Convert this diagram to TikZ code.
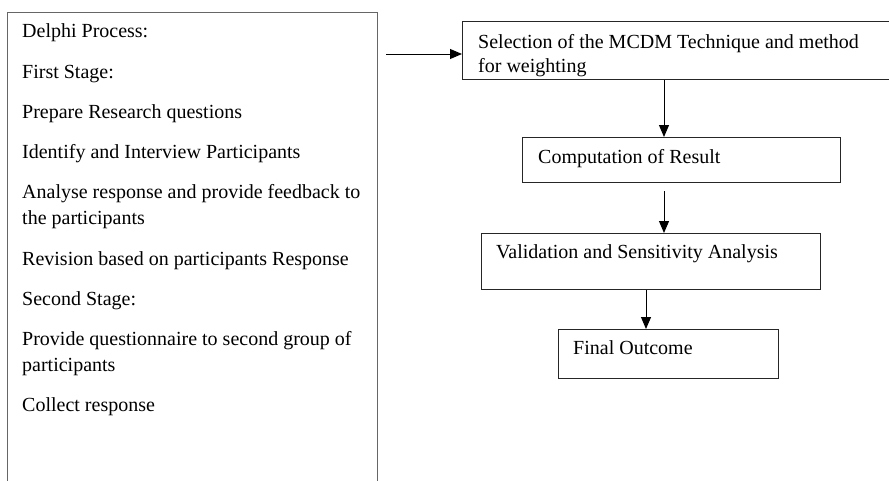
\documentclass[tikz,border=0pt]{standalone}
\usepackage{fontspec}
\setmainfont{Liberation Serif}
\usetikzlibrary{arrows.meta}
\begin{document}
\begin{tikzpicture}[x=1pt,y=-1pt,
  box/.style={draw=black!85,line width=1.2pt,inner sep=0pt,anchor=north west},
  lbox/.style={draw=black!60,line width=1.3pt,inner sep=0pt,anchor=north west},
  txt/.style={inner sep=0pt,anchor=base west,font=\fontsize{20}{25}\selectfont},
  arr/.style={line width=1pt,-{Triangle[width=10pt,length=12pt]}}]
\useasboundingbox (0,0) rectangle (889,480);
% boxes
\node[lbox,minimum width=370pt,minimum height=480pt] (L) at (7,12) {};
\node[box,minimum width=440pt,minimum height=58pt] (B1) at (462,21) {};
\node[box,minimum width=318pt,minimum height=45pt] (B2) at (522,137) {};
\node[box,minimum width=339pt,minimum height=56pt] (B3) at (481,233) {};
\node[box,minimum width=220pt,minimum height=49pt] (B4) at (558,329) {};
% left texts
\node[txt] (l1) at (22,37) {Delphi Process:};
\node[txt] (l2) at (22,78) {First Stage:};
\node[txt] (l3) at (22,118) {Prepare Research questions};
\node[txt] (l4) at (22,158) {Identify and Interview Participants};
\node[txt] (l5a) at (22,198) {Analyse response and provide feedback to};
\node[txt] (l5b) at (22,224) {the participants};
\node[txt] (l6) at (22,265) {Revision based on participants Response};
\node[txt] (l7) at (22,305) {Second Stage:};
\node[txt] (l8a) at (22,345) {Provide questionnaire to second group of};
\node[txt] (l8b) at (22,371) {participants};
\node[txt] (l9) at (22,411) {Collect response};
% right texts
\node[txt] (t1a) at (478,48) {Selection of the MCDM Technique and method};
\node[txt] (t1b) at (478,72) {for weighting};
\node[txt] (t2) at (538,163) {Computation of Result};
\node[txt] (t3) at (496,258) {Validation and Sensitivity Analysis};
\node[txt] (t4) at (573,354) {Final Outcome};
% connectors
\coordinate (a0) at (386,54);
\coordinate (c1) at (664,0);
\coordinate (c2) at (646,0);
\coordinate (b2s) at ([yshift=-8pt]B2.south);
\draw[arr] (a0) -- (B1.west |- a0);
\draw[arr] (B1.south -| c1) -- (B2.north -| c1);
\draw[arr] (b2s -| c1) -- (B3.north -| c1);
\draw[arr] (B3.south -| c2) -- (B4.north -| c2);
\end{tikzpicture}
\end{document}
